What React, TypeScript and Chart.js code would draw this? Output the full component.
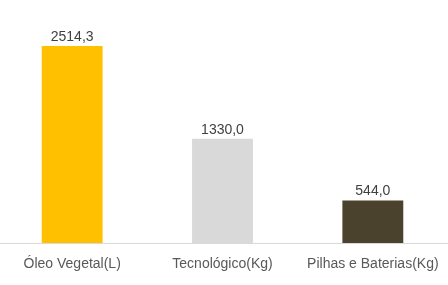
import React, { useEffect, useRef } from "react";
import { Chart, registerables } from "chart.js";

Chart.register(...registerables);

const categories = ["Óleo Vegetal(L)", "Tecnológico(Kg)", "Pilhas e Baterias(Kg)"];
const values = [2514.3, 1330.0, 544.0];
const valueLabels = ["2514,3", "1330,0", "544,0"];
const barColors = ["#FFC000", "#D9D9D9", "#4A422C"];

const FONT = "'Liberation Sans', Arial, sans-serif";

const valueLabelPlugin = {
  id: "valueLabels",
  afterDatasetsDraw(chart: any) {
    const ctx = chart.ctx;
    const meta = chart.getDatasetMeta(0);
    ctx.save();
    ctx.font = `14px ${FONT}`;
    ctx.fillStyle = "#404040";
    ctx.textAlign = "center";
    ctx.textBaseline = "alphabetic";
    meta.data.forEach((bar: any, i: number) => {
      ctx.fillText(valueLabels[i], bar.x, bar.y - 5);
    });
    ctx.restore();
  },
};

export default function App() {
  const ref = useRef<HTMLCanvasElement | null>(null);
  useEffect(() => {
    document.body.style.margin = "0";
    const chart = new Chart(ref.current as HTMLCanvasElement, {
      type: "bar",
      data: {
        labels: categories,
        datasets: [
          {
            data: values,
            backgroundColor: barColors,
            categoryPercentage: 1,
            barPercentage: 0.405,
          },
        ],
      },
      options: {
        animation: false,
        responsive: false,
        maintainAspectRatio: false,
        layout: { autoPadding: false, padding: { top: 8, left: 0, right: 0, bottom: 0 } },
        plugins: {
          legend: { display: false },
          tooltip: { enabled: false },
        },
        scales: {
          y: { display: false, min: 0, max: 3000 },
          x: {
            grid: { display: false, drawTicks: false },
            border: { display: true, color: "#D9D9D9", width: 1 },
            ticks: {
              color: "#595959",
              font: { family: FONT, size: 14 },
              padding: 13,
              maxRotation: 0,
              autoSkip: false,
            },
            afterFit(scale: any) {
              scale.height = 42;
              scale.paddingLeft = 0;
              scale.paddingRight = 0;
            },
          },
        },
      },
      plugins: [valueLabelPlugin],
    });
    return () => chart.destroy();
  }, []);
  return (
    <div style={{ position: "absolute", left: 0, top: 0, width: 448, height: 285, overflow: "hidden" }}>
      <canvas
        ref={ref}
        width={451}
        height={285}
        style={{ display: "block", marginLeft: -3, width: 451, height: 285 }}
      />
    </div>
  );
}
